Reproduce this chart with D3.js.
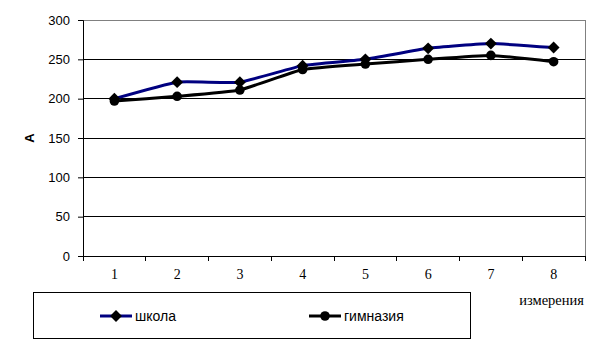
<!DOCTYPE html>
<html>
<head>
<meta charset="utf-8">
<script src="https://cdn.jsdelivr.net/npm/d3@7"></script>
<style>
  body { margin: 0; background: #fff; }
  svg { display: block; }
</style>
</head>
<body>
<div id="chart"></div>
<script>
// Data
const categories = ["1", "2", "3", "4", "5", "6", "7", "8"];
const school = [200, 221, 221, 242, 250, 264, 270, 265];
const gymnasium = [197, 203, 211, 237, 244, 250, 255, 247];
const yTicks = [0, 50, 100, 150, 200, 250, 300];
const seriesNames = ["школа", "гимназия"];

const width = 591, height = 344;
const plotLeft = 83, plotRight = 585, plotTop = 20, plotBottom = 256;

const svg = d3.select("#chart").append("svg")
  .attr("width", width)
  .attr("height", height);

const x = d3.scaleBand().domain(categories).range([plotLeft, plotRight]);
const y = d3.scaleLinear().domain([0, 300]).range([plotBottom, plotTop]);

// gridlines
svg.append("g")
  .selectAll("line")
  .data(yTicks.filter(d => d > 0 && d < 300))
  .join("line")
  .attr("x1", plotLeft).attr("x2", plotRight)
  .attr("y1", d => y(d)).attr("y2", d => y(d))
  .attr("stroke", "#000").attr("shape-rendering", "crispEdges");

// plot area border (gray)
svg.append("path")
  .attr("d", `M${plotLeft},${plotTop}H${plotRight}V${plotBottom}`)
  .attr("fill", "none").attr("stroke", "#808080")
  .attr("shape-rendering", "crispEdges");

// y axis
const yAxis = svg.append("g")
  .attr("transform", `translate(${plotLeft},0)`)
  .call(d3.axisLeft(y).tickValues(yTicks).tickSize(5).tickPadding(8));
yAxis.select(".domain").attr("stroke", "#000");
yAxis.selectAll("line").attr("stroke", "#000");
yAxis.selectAll("text")
  .attr("font-family", "Liberation Sans, Arial, sans-serif")
  .attr("font-size", 13).attr("fill", "#000");

// x axis (ticks on band boundaries)
const xAxis = svg.append("g")
  .attr("transform", `translate(0,${plotBottom})`)
  .call(d3.axisBottom(x).tickSize(0).tickPadding(13));
xAxis.select(".domain").attr("stroke", "#000").attr("shape-rendering", "crispEdges");
xAxis.selectAll("text")
  .attr("font-family", "Liberation Serif, Times New Roman, serif")
  .attr("font-size", 14).attr("fill", "#000");
svg.append("g")
  .selectAll("line")
  .data(categories.concat(["end"]))
  .join("line")
  .attr("x1", (d, i) => i < categories.length ? x(d) : plotRight)
  .attr("x2", (d, i) => i < categories.length ? x(d) : plotRight)
  .attr("y1", plotBottom).attr("y2", plotBottom + 5)
  .attr("stroke", "#000").attr("shape-rendering", "crispEdges");

// axis titles
svg.append("text")
  .attr("transform", `translate(34,138) rotate(-90)`)
  .attr("text-anchor", "middle")
  .attr("font-family", "Liberation Sans, Arial, sans-serif")
  .attr("font-size", 13).attr("font-weight", "bold")
  .text("А");
svg.append("text")
  .attr("x", 584).attr("y", 305)
  .attr("text-anchor", "end")
  .attr("font-family", "Liberation Serif, Times New Roman, serif")
  .attr("font-size", 14.5)
  .text("измерения");

const cx = d => x(d) + x.bandwidth() / 2;
const line = d3.line().curve(d3.curveCardinal.tension(0.6));

function drawSeries(values, color, marker) {
  const pts = values.map((v, i) => [cx(categories[i]), y(v)]);
  svg.append("path")
    .attr("d", line(pts))
    .attr("fill", "none").attr("stroke", color).attr("stroke-width", 3);
  svg.append("g")
    .selectAll("path")
    .data(pts)
    .join("path")
    .attr("transform", d => `translate(${d[0]},${d[1]})`)
    .attr("d", marker)
    .attr("fill", "#000");
}

const diamond = d3.symbol(d3.symbolDiamond2, 90)();
const circle = d3.symbol(d3.symbolCircle, 72)();

drawSeries(school, "#000080", diamond);
drawSeries(gymnasium, "#000", circle);

// legend
svg.append("rect")
  .attr("x", 33.5).attr("y", 292.5).attr("width", 437).attr("height", 46)
  .attr("fill", "#fff").attr("stroke", "#000");

const legendX = [100, 309];
const legendColors = ["#000080", "#000"];
const legendMarkers = [diamond, circle];
seriesNames.forEach((name, i) => {
  const lx = legendX[i], ly = 316;
  svg.append("line")
    .attr("x1", lx).attr("x2", lx + 32).attr("y1", ly).attr("y2", ly)
    .attr("stroke", legendColors[i]).attr("stroke-width", 3);
  svg.append("path")
    .attr("transform", `translate(${lx + 16},${ly})`)
    .attr("d", legendMarkers[i]).attr("fill", "#000");
  svg.append("text")
    .attr("x", lx + 35).attr("y", ly + 5)
    .attr("font-family", "Liberation Sans, Arial, sans-serif")
    .attr("font-size", 14)
    .text(name);
});
</script>
</body>
</html>
